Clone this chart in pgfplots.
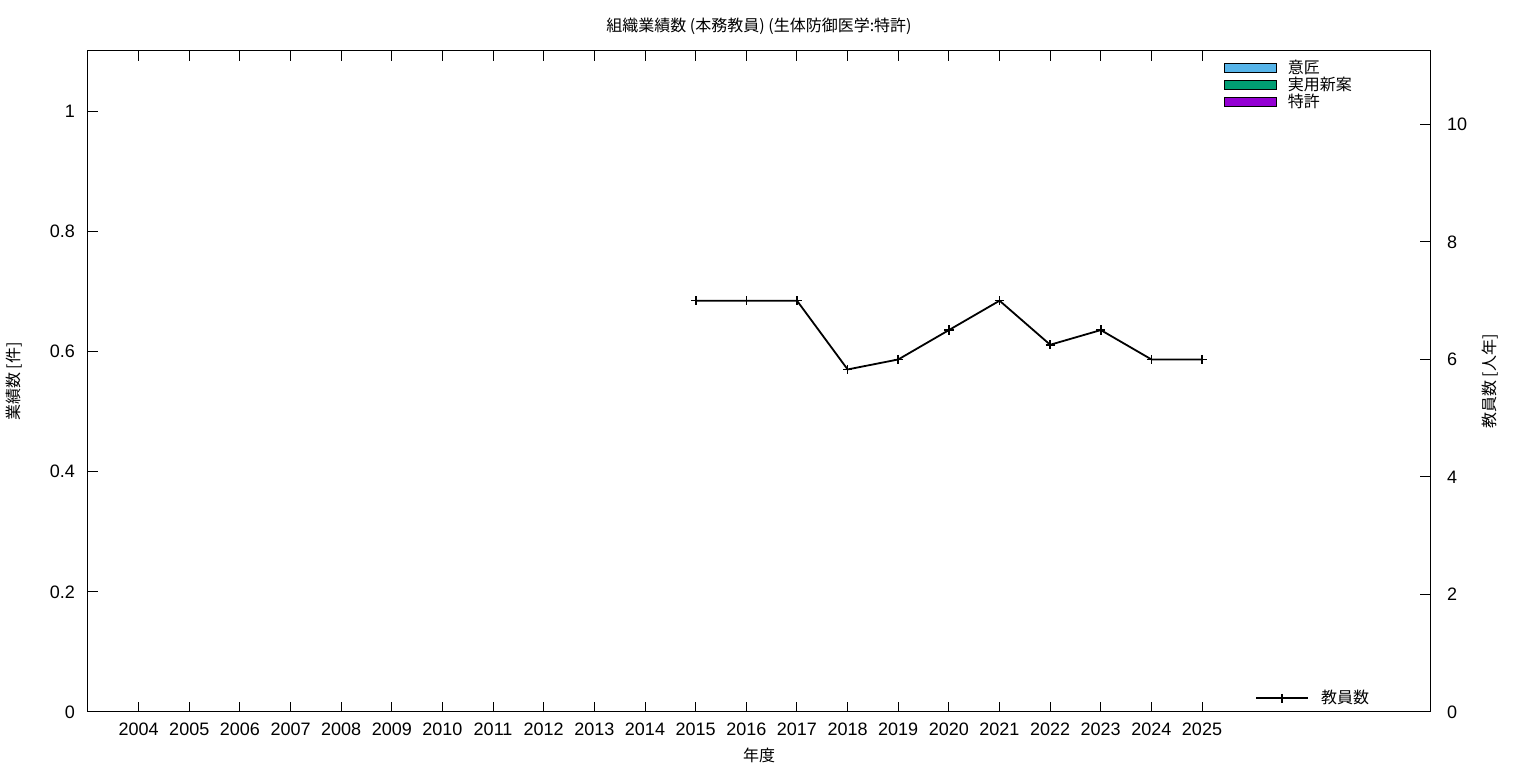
\documentclass[border=0pt]{standalone}
\usepackage{fontspec}
\setmainfont{Noto Sans CJK JP}
\newfontfamily\numfont{Liberation Sans}
\usepackage{pgfplots}
\pgfplotsset{compat=1.18}
\definecolor{cIsho}{HTML}{56B4E9}
\definecolor{cJitsu}{HTML}{009E73}
\definecolor{cTokkyo}{HTML}{9400D3}
\pgfplotsset{
  /pgf/number format/assume math mode=true,
  barleg/.style={legend image code/.code={\draw[##1,line width=0.5pt] (0pt,-2.3pt) rectangle (26pt,2.3pt); \path (31pt,0pt);}},
}
\begin{document}
\begin{tikzpicture}
\begin{axis}[
  scale only axis, width=671pt, height=330.5pt,
  xmin=2003, xmax=2029.5, ymin=0, ymax=1.1,
  xtick={2004,...,2025},
  x tick label style={/pgf/number format/1000 sep={}, font=\numfont\fontsize{9}{10}\selectfont, yshift=-2pt},
  ytick={0,0.2,0.4,0.6,0.8,1},
  yticklabels={0,0.2,0.4,0.6,0.8,1},
  y tick label style={font=\numfont\fontsize{9}{10}\selectfont, xshift=-3pt},
  xtick pos=both, ytick pos=left,
  tick align=inside, major tick length=5pt,
  every tick/.style={black, line width=0.5pt},
  axis line style={line width=0.5pt},
  title={組織業績数 (本務教員) (生体防御医学:特許)},
  title style={font=\fontsize{8}{10}\selectfont, at={(axis description cs:0.5,1)}, anchor=center, yshift=6.5pt},
  xlabel={年度},
  xlabel style={font=\fontsize{8}{10}\selectfont, at={(axis description cs:0.5,0)}, anchor=center, yshift=-21.5pt},
  ylabel={業績数 [件]},
  ylabel style={font=\fontsize{8}{10}\selectfont, at={(axis description cs:0,0.5)}, anchor=center, yshift=37pt},
  legend style={at={(0.842,0.994)}, anchor=north west, draw=none, fill=none,
    font=\fontsize{8}{8.5}\selectfont, row sep=-0.3pt,
    nodes={inner sep=0.3pt, anchor=west}},
  legend cell align=left,
]
\coordinate (ll) at (rel axis cs:0,0);
\coordinate (ur) at (rel axis cs:1,1);
\addlegendimage{barleg, fill=cIsho, draw=black}
\addlegendentry{意匠}
\addlegendimage{barleg, fill=cJitsu, draw=black}
\addlegendentry{実用新案}
\addlegendimage{barleg, fill=cTokkyo, draw=black}
\addlegendentry{特許}
\end{axis}
\begin{axis}[
  scale only axis, width=671pt, height=330.5pt,
  xmin=2003, xmax=2029.5, ymin=0, ymax=11.25,
  axis x line=none, axis y line*=right,
  ytick={0,2,4,6,8,10},
  y tick label style={font=\numfont\fontsize{9}{10}\selectfont, xshift=5pt},
  tick align=inside, major tick length=5pt,
  every tick/.style={black, line width=0.5pt},
  axis line style={line width=0.5pt},
  ylabel={教員数 [人年]},
  ylabel style={font=\fontsize{8}{10}\selectfont, at={(axis description cs:1,0.5)}, anchor=center, yshift=-30pt},
  legend style={at={(0.865,0.0)}, anchor=south west, draw=none, fill=none,
    font=\fontsize{8}{10}\selectfont,
    nodes={inner sep=0.5pt, anchor=west}},
  legend image code/.code={\draw[#1] (0pt,0pt) -- (26pt,0pt); \draw[#1] plot coordinates {(13pt,0pt)}; \path (31.5pt,0pt);},
]
\addplot[black, line width=0.9pt, mark=+, mark size=2.3pt, mark options={line width=0.8pt}] coordinates {
(2015,7) (2016,7) (2017,7) (2018,5.83) (2019,6) (2020,6.5) (2021,7) (2022,6.25) (2023,6.5) (2024,6) (2025,6)
};
\addlegendentry{教員数}
\end{axis}
\pgfresetboundingbox
\path ([shift={(-44pt,-28pt)}]ll) rectangle ([shift={(53pt,25.5pt)}]ur);
\end{tikzpicture}
\end{document}
